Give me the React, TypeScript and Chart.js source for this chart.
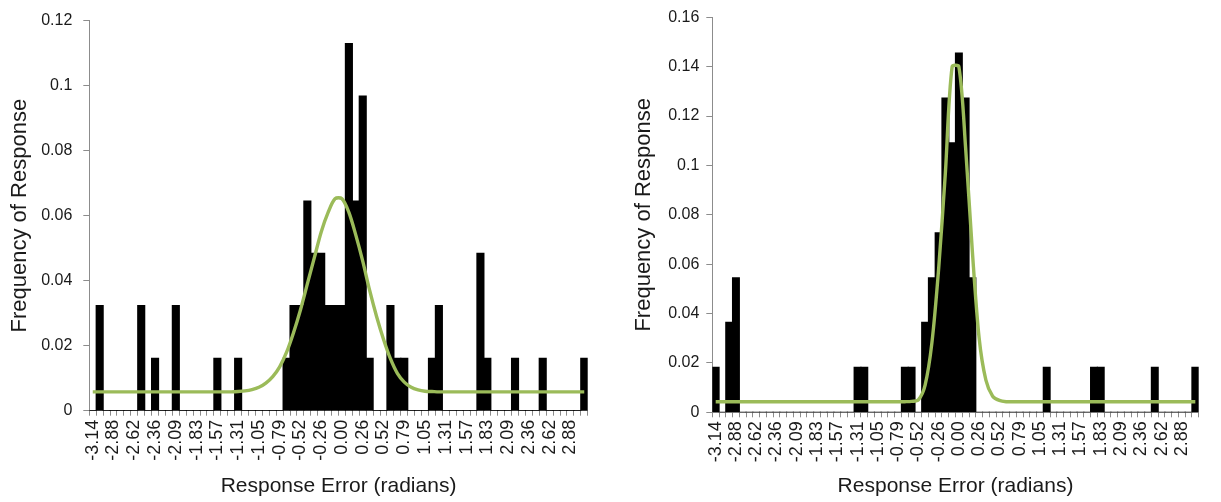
import React, { useEffect, useRef } from "react";
import { Chart, registerables } from "chart.js";

Chart.register(...registerables);

const categories = [
  "-3.14", "-3.05", "-2.97", "-2.88", "-2.79", "-2.71", "-2.62", "-2.53", "-2.44", "-2.36", "-2.27", "-2.18",
  "-2.09", "-2.01", "-1.92", "-1.83", "-1.75", "-1.66", "-1.57", "-1.48", "-1.40", "-1.31", "-1.22", "-1.13",
  "-1.05", "-0.96", "-0.87", "-0.79", "-0.70", "-0.61", "-0.52", "-0.44", "-0.35", "-0.26", "-0.17", "-0.09",
  "0.00", "0.09", "0.17", "0.26", "0.35", "0.44", "0.52", "0.61", "0.70", "0.79", "0.87", "0.96",
  "1.05", "1.13", "1.22", "1.31", "1.40", "1.48", "1.57", "1.66", "1.75", "1.83", "1.92", "2.01",
  "2.09", "2.18", "2.27", "2.36", "2.44", "2.53", "2.62", "2.71", "2.79", "2.88", "2.97", "3.05",
];

// Left panel: observed response frequencies
const leftBars = [
  0, 0.0323, 0, 0, 0, 0, 0, 0.0323, 0, 0.0161, 0, 0,
  0.0323, 0, 0, 0, 0, 0, 0.0161, 0, 0, 0.0161, 0, 0,
  0, 0, 0, 0, 0.0161, 0.0323, 0.0323, 0.0645, 0.0484, 0.0484, 0.0323, 0.0323,
  0.0323, 0.1129, 0.0645, 0.0968, 0.0161, 0, 0, 0.0323, 0.0161, 0.0161, 0, 0,
  0, 0.0161, 0.0323, 0, 0, 0, 0, 0, 0.0484, 0.0161, 0, 0,
  0, 0.0161, 0, 0, 0, 0.0161, 0, 0, 0, 0, 0, 0.0161,
];

// Left panel: fitted model
const leftFit = [
  0.0058, 0.0058, 0.0058, 0.0058, 0.0058, 0.0058, 0.0058, 0.0058, 0.0058, 0.0058, 0.0058, 0.0058,
  0.0058, 0.0058, 0.0058, 0.0058, 0.0058, 0.0058, 0.0058, 0.0058, 0.0058, 0.0059, 0.0061, 0.0065,
  0.0072, 0.0085, 0.0105, 0.0135, 0.018, 0.024, 0.031, 0.039, 0.047, 0.055, 0.061, 0.0652,
  0.0652, 0.061, 0.054, 0.046, 0.037, 0.029, 0.022, 0.016, 0.0115, 0.0088, 0.0072, 0.0064,
  0.006, 0.0059, 0.0058, 0.0058, 0.0058, 0.0058, 0.0058, 0.0058, 0.0058, 0.0058, 0.0058, 0.0058,
  0.0058, 0.0058, 0.0058, 0.0058, 0.0058, 0.0058, 0.0058, 0.0058, 0.0058, 0.0058, 0.0058, 0.0058,
];

// Right panel: observed response frequencies
const rightBars = [
  0.0182, 0, 0.0364, 0.0545, 0, 0, 0, 0, 0, 0, 0, 0,
  0, 0, 0, 0, 0, 0, 0, 0, 0, 0.0182, 0.0182, 0,
  0, 0, 0, 0, 0.0182, 0.0182, 0, 0.0364, 0.0545, 0.0727, 0.1273, 0.1091,
  0.1455, 0.1273, 0.0545, 0, 0, 0, 0, 0, 0, 0, 0, 0,
  0, 0.0182, 0, 0, 0, 0, 0, 0, 0.0182, 0.0182, 0, 0,
  0, 0, 0, 0, 0, 0.0182, 0, 0, 0, 0, 0, 0.0182,
];

// Right panel: fitted model
const rightFit = [
  0.0043, 0.0043, 0.0043, 0.0043, 0.0043, 0.0043, 0.0043, 0.0043, 0.0043, 0.0043, 0.0043, 0.0043,
  0.0043, 0.0043, 0.0043, 0.0043, 0.0043, 0.0043, 0.0043, 0.0043, 0.0043, 0.0043, 0.0043, 0.0043,
  0.0043, 0.0043, 0.0043, 0.0043, 0.0043, 0.0044, 0.005, 0.011, 0.028, 0.058, 0.097, 0.14,
  0.14, 0.107, 0.065, 0.03, 0.013, 0.0065, 0.0048, 0.0043, 0.0043, 0.0043, 0.0043, 0.0043,
  0.0043, 0.0043, 0.0043, 0.0043, 0.0043, 0.0043, 0.0043, 0.0043, 0.0043, 0.0043, 0.0043, 0.0043,
  0.0043, 0.0043, 0.0043, 0.0043, 0.0043, 0.0043, 0.0043, 0.0043, 0.0043, 0.0043, 0.0043, 0.0043,
];

const leftYMax = 0.12;
const rightYMax = 0.16;
const yStep = 0.02;

const FONT = "'Liberation Sans', Arial, sans-serif";
const TEXT = "#1a1a1a";
const AXIS = "#8c8c8c";

type PanelProps = {
  bars: number[];
  fit: number[];
  yMax: number;
  left: number;
  width: number;
  yAxisWidth: number;
  titlePad: number;
  tickPad: number;
  padRight: number;
  padTop: number;
  xAxisHeight: number;
};

function Panel(p: PanelProps) {
  const ref = useRef<HTMLCanvasElement | null>(null);
  useEffect(() => {
    if (!ref.current) return;
    const chart = new Chart(ref.current, {
      type: "bar",
      data: {
        labels: categories,
        datasets: [
          {
            type: "line",
            data: p.fit,
            borderColor: "#9BBB59",
            borderWidth: 3.4,
            pointRadius: 0,
            tension: 0.3,
            order: 0,
          } as any,
          {
            type: "bar",
            data: p.bars,
            backgroundColor: "#000000",
            borderWidth: 0,
            inflateAmount: 0.6,
            categoryPercentage: 1,
            barPercentage: 1,
            order: 1,
          } as any,
        ],
      },
      options: {
        animation: false,
        responsive: false,
        maintainAspectRatio: false,
        layout: { padding: { left: 0, right: p.padRight, top: p.padTop, bottom: 0 } },
        plugins: { legend: { display: false }, tooltip: { enabled: false } },
        scales: {
          x: {
            type: "category",
            offset: true,
            grid: { offset: true, drawOnChartArea: false, drawTicks: true, tickLength: 5, color: AXIS },
            border: { color: AXIS, width: 1 },
            ticks: {
              autoSkip: false,
              minRotation: 90,
              maxRotation: 90,
              padding: 4,
              color: TEXT,
              font: { family: FONT, size: 18 },
              callback: (_v: any, i: number) => (i % 3 === 0 ? categories[i] : ""),
            },
            title: {
              display: true,
              text: "Response Error (radians)",
              color: TEXT,
              font: { family: FONT, size: 21 },
              padding: { top: 0, bottom: 3.5 },
            },
            afterFit: (s: any) => {
              s.height = p.xAxisHeight;
            },
          },
          y: {
            min: 0,
            max: p.yMax,
            grid: { drawOnChartArea: false, drawTicks: true, tickLength: 6, color: AXIS },
            border: { color: AXIS, width: 1 },
            ticks: {
              stepSize: yStep,
              padding: p.tickPad,
              color: TEXT,
              font: { family: FONT, size: 16 },
              callback: (v: any) => String(Number(Number(v).toFixed(2))),
            },
            title: {
              display: true,
              text: "Frequency of Response",
              color: TEXT,
              font: { family: FONT, size: 22 },
              padding: { top: p.titlePad, bottom: 0 },
            },
            afterFit: (s: any) => {
              s.width = p.yAxisWidth;
            },
          },
        },
      },
    });
    return () => chart.destroy();
  }, []);
  return (
    <canvas
      ref={ref}
      width={p.width}
      height={502}
      style={{ position: "absolute", left: p.left, top: 0, width: p.width, height: 502, display: "block" }}
    />
  );
}

export default function App() {
  return (
    <div style={{ position: "absolute", left: 0, top: 0, width: 1221, height: 502, background: "#fff" }}>
      <Panel
        bars={leftBars}
        fit={leftFit}
        yMax={leftYMax}
        left={0}
        width={610}
        yAxisWidth={89.3}
        titlePad={7}
        tickPad={11}
        padRight={20.7}
        padTop={16}
        xAxisHeight={91.3}
      />
      <Panel
        bars={rightBars}
        fit={rightFit}
        yMax={rightYMax}
        left={610}
        width={611}
        yAxisWidth={102.3}
        titlePad={21}
        tickPad={7}
        padRight={10.5}
        padTop={17.3}
        xAxisHeight={89.7}
      />
    </div>
  );
}
